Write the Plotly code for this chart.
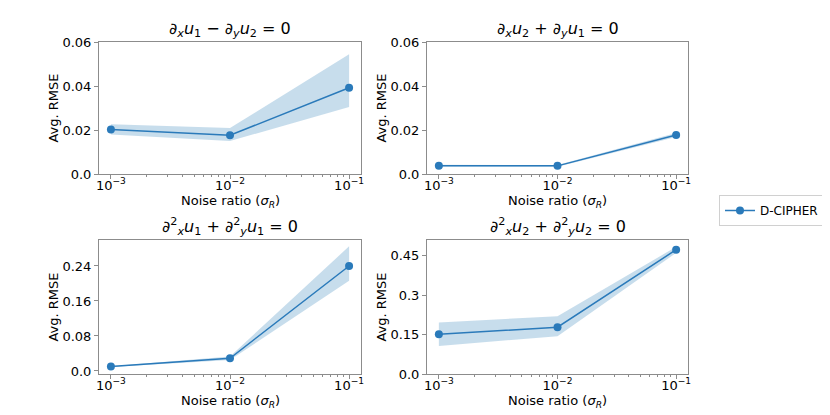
"""D-CIPHER: Avg. RMSE against noise ratio for four equations
"""

import plotly.graph_objects as go
from plotly.subplots import make_subplots

noise = [1e-3, 1e-2, 1e-1]

titles = [
    "∂<sub><i>x</i></sub><i>u</i><sub>1</sub> − ∂<sub><i>y</i></sub><i>u</i><sub>2</sub> = 0",
    "∂<sub><i>x</i></sub><i>u</i><sub>2</sub> + ∂<sub><i>y</i></sub><i>u</i><sub>1</sub> = 0",
    "∂<sup>2</sup><sub><i>x</i></sub><i>u</i><sub>1</sub> + ∂<sup>2</sup><sub><i>y</i></sub><i>u</i><sub>1</sub> = 0",
    "∂<sup>2</sup><sub><i>x</i></sub><i>u</i><sub>2</sub> + ∂<sup>2</sup><sub><i>y</i></sub><i>u</i><sub>2</sub> = 0",
]
xtitle = "Noise ratio (<i>σ</i><sub><i>R</i></sub>)"
ytitle = "Avg. RMSE"

rmse_1 = [0.0202, 0.0176, 0.0392]
low_1 = [0.0179, 0.0150, 0.0305]
high_1 = [0.0226, 0.0209, 0.0544]

rmse_2 = [0.0038, 0.0037, 0.0177]
low_2 = [0.0034, 0.0033, 0.0168]
high_2 = [0.0042, 0.0041, 0.0186]

rmse_3 = [0.0099, 0.0290, 0.2400]
low_3 = [0.0090, 0.0250, 0.2060]
high_3 = [0.0110, 0.0330, 0.2850]

rmse_4 = [0.151, 0.178, 0.473]
low_4 = [0.107, 0.144, 0.461]
high_4 = [0.196, 0.220, 0.484]

yticks_1 = [0.0, 0.02, 0.04, 0.06]
ylabels_1 = ["0.0", "0.02", "0.04", "0.06"]
yticks_3 = [0.0, 0.08, 0.16, 0.24]
ylabels_3 = ["0.0", "0.08", "0.16", "0.24"]
yticks_4 = [0.0, 0.15, 0.3, 0.45]
ylabels_4 = ["0.0", "0.15", "0.3", "0.45"]

xticks = [1e-3, 1e-2, 1e-1]
xlabels = ["10<sup>−3</sup>", "10<sup>−2</sup>", "10<sup>−1</sup>"]

BLUE = "#2a7aba"
BAND = "rgba(31,119,180,0.25)"
SPINE = "#8c8c8c"
FONT = "DejaVu Sans"

panels = [
    (rmse_1, low_1, high_1, yticks_1, ylabels_1, [0, 0.06]),
    (rmse_2, low_2, high_2, yticks_1, ylabels_1, [0, 0.06]),
    (rmse_3, low_3, high_3, yticks_3, ylabels_3, [-0.007, 0.2994]),
    (rmse_4, low_4, high_4, yticks_4, ylabels_4, [0, 0.51]),
]

# the page body adds an 8px margin, so the figure is 822x407
W, H, PAD = 822, 407, 8
x_domains = [[(99 - PAD) / W, (361 - PAD) / W], [(427 - PAD) / W, (688 - PAD) / W]]
y_domains = [[(415 - 174) / H, (415 - 42) / H], [(415 - 374) / H, (415 - 240) / H]]

minor_x = [m * 10.0 ** e for e in (-3, -2) for m in range(2, 10)]

fig = make_subplots(rows=2, cols=2)

for i, (mid, lo, hi, yt, yl, yr) in enumerate(panels):
    row, col = i // 2 + 1, i % 2 + 1
    fig.add_trace(go.Scatter(x=noise, y=hi, mode="lines", line=dict(width=0),
                             showlegend=False, hoverinfo="skip"), row=row, col=col)
    fig.add_trace(go.Scatter(x=noise, y=lo, mode="lines", line=dict(width=0),
                             fill="tonexty", fillcolor=BAND,
                             showlegend=False, hoverinfo="skip"), row=row, col=col)
    fig.add_trace(go.Scatter(x=noise, y=mid, mode="lines+markers", name="D-CIPHER",
                             line=dict(color=BLUE, width=1.5),
                             marker=dict(color=BLUE, size=8),
                             showlegend=(i == 0)), row=row, col=col)

    fig.update_xaxes(type="log", range=[-3.1, -0.9], domain=x_domains[col - 1],
                     tickvals=xticks, ticktext=xlabels, ticklabelstandoff=-5,
                     minor=dict(tickmode="array", tickvals=minor_x, ticks="outside",
                                ticklen=2, tickcolor=SPINE),
                     row=row, col=col)
    fig.update_yaxes(range=yr, domain=y_domains[row - 1],
                     tickvals=yt, ticktext=yl,
                     title=dict(text=ytitle, standoff=0, font=dict(size=13)),
                     row=row, col=col)

    xmid = sum(x_domains[col - 1]) / 2
    fig.add_annotation(text=titles[i], xref="paper", yref="paper",
                       x=xmid, y=y_domains[row - 1][1],
                       xanchor="center", yanchor="bottom",
                       showarrow=False, font=dict(size=16, color="black"))
    fig.add_annotation(text=xtitle, xref="paper", yref="paper",
                       x=xmid, y=y_domains[row - 1][0], yshift=-27,
                       xanchor="center", yanchor="middle",
                       showarrow=False, font=dict(size=13, color="black"))

fig.update_xaxes(showline=True, mirror=True, linecolor=SPINE, linewidth=1,
                 ticks="outside", ticklen=4, tickcolor=SPINE, automargin=False,
                 showgrid=False, zeroline=False, tickfont=dict(size=13))
fig.update_yaxes(showline=True, mirror=True, linecolor=SPINE, linewidth=1,
                 ticks="outside", ticklen=4, tickcolor=SPINE, automargin=False,
                 showgrid=False, zeroline=False, tickfont=dict(size=13))

fig.update_layout(
    width=W, height=H,
    margin=dict(l=0, r=0, t=0, b=0),
    plot_bgcolor="white", paper_bgcolor="white",
    font=dict(family=FONT, color="black", size=13),
    legend=dict(x=(824 - PAD) / W, y=(415 - 195) / H, xanchor="right", yanchor="top",
                bordercolor="#d0d0d0", borderwidth=1, bgcolor="white",
                font=dict(size=12), itemwidth=30),
)

fig.write_html("out.html")
